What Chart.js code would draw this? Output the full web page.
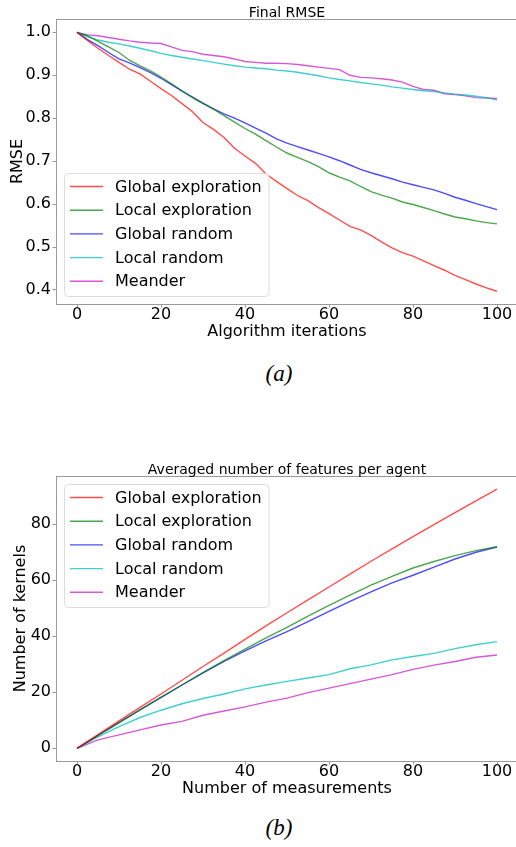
<!DOCTYPE html>
<html>
<head>
<meta charset="utf-8">
<script src="https://cdn.jsdelivr.net/npm/chart.js@4"></script>
<style>
  html, body { margin: 0; padding: 0; background: #fff; width: 516px; height: 847px; overflow: hidden; }
  canvas { position: absolute; left: 0; }
  #rmseChart { top: 0; }
  #kernelChart { top: 450px; }
  .caption { position: absolute; left: 229px; width: 100px; text-align: center;
             font: italic 23px/23px "Liberation Serif", serif; color: #000; }
</style>
</head>
<body>
<canvas id="rmseChart" width="520" height="345"></canvas>
<canvas id="kernelChart" width="520" height="350"></canvas>
<div class="caption" style="top:362px">(a)</div>
<div class="caption" style="top:816px">(b)</div>
<script>
// Series shared by both panels
const seriesLabels = ['Global exploration', 'Local exploration', 'Global random', 'Local random', 'Meander'];
const seriesColors = ['rgba(255,0,0,0.7)', 'rgba(0,128,0,0.7)', 'rgba(0,0,255,0.7)', 'rgba(0,191,191,0.75)', 'rgba(191,0,191,0.65)'];
const xTicks = [0, 20, 40, 60, 80, 100];

// (a) Final RMSE vs algorithm iterations
const iterations = [0, 2.5, 5, 7.5, 10, 12.5, 15, 17.5, 20, 22.5, 25, 27.5, 30, 32.5, 35, 37.5, 40, 42.5, 45, 47.5,
  50, 52.5, 55, 57.5, 60, 62.5, 65, 67.5, 70, 72.5, 75, 77.5, 80, 82.5, 85, 87.5, 90, 92.5, 95, 97.5, 100];
const rmseGlobalExploration = [1.0, 0.981, 0.963, 0.946, 0.930, 0.914, 0.903, 0.886, 0.869, 0.853, 0.834, 0.815, 0.790, 0.774,
  0.755, 0.730, 0.712, 0.695, 0.670, 0.653, 0.636, 0.620, 0.608, 0.592, 0.578, 0.563, 0.548, 0.540, 0.527, 0.512, 0.498,
  0.487, 0.479, 0.468, 0.457, 0.446, 0.434, 0.424, 0.414, 0.405, 0.397];
const rmseLocalExploration = [1.0, 0.992, 0.979, 0.966, 0.953, 0.935, 0.922, 0.910, 0.896, 0.880, 0.864, 0.848, 0.834, 0.821,
  0.806, 0.791, 0.776, 0.763, 0.748, 0.733, 0.719, 0.709, 0.699, 0.687, 0.673, 0.663, 0.654, 0.641, 0.629, 0.621, 0.614,
  0.605, 0.599, 0.592, 0.585, 0.577, 0.570, 0.566, 0.561, 0.557, 0.554];
const rmseGlobalRandom = [1.0, 0.983, 0.969, 0.953, 0.938, 0.929, 0.918, 0.906, 0.893, 0.878, 0.863, 0.849, 0.835, 0.822,
  0.810, 0.800, 0.789, 0.777, 0.765, 0.752, 0.742, 0.734, 0.726, 0.718, 0.710, 0.701, 0.691, 0.681, 0.673, 0.666, 0.659,
  0.651, 0.645, 0.639, 0.633, 0.625, 0.616, 0.609, 0.601, 0.594, 0.587];
const rmseLocalRandom = [1.0, 0.990, 0.982, 0.977, 0.973, 0.968, 0.963, 0.957, 0.951, 0.946, 0.942, 0.938, 0.934, 0.930,
  0.926, 0.922, 0.919, 0.917, 0.915, 0.912, 0.910, 0.907, 0.903, 0.899, 0.894, 0.890, 0.887, 0.883, 0.880, 0.877, 0.873,
  0.870, 0.867, 0.864, 0.862, 0.859, 0.856, 0.854, 0.851, 0.848, 0.842];
const rmseMeander = [1.0, 0.994, 0.992, 0.988, 0.984, 0.980, 0.977, 0.975, 0.974, 0.966, 0.958, 0.955, 0.949, 0.946,
  0.943, 0.938, 0.932, 0.930, 0.928, 0.928, 0.927, 0.925, 0.922, 0.919, 0.916, 0.913, 0.900, 0.895, 0.894, 0.892, 0.889,
  0.884, 0.874, 0.867, 0.865, 0.857, 0.855, 0.852, 0.848, 0.847, 0.846];
const rmseTicks = [0.4, 0.5, 0.6, 0.7, 0.8, 0.9, 1.0];

// (b) Averaged number of features per agent vs measurements
const measurements = [0, 5, 10, 15, 20, 25, 30, 35, 40, 45, 50, 55, 60, 65, 70, 75, 80, 85, 90, 95, 100];
const kernelsGlobalExploration = [0, 4.9, 9.8, 14.6, 19.4, 24.3, 29.2, 34.0, 38.9, 43.7, 48.4, 53.0, 57.6, 62.2, 66.8, 71.2, 75.6, 79.9, 84.2, 88.4, 92.6];
const kernelsLocalExploration = [0, 4.6, 9.2, 13.7, 18.2, 22.6, 27.0, 31.3, 35.4, 39.4, 43.2, 47.2, 51.0, 54.7, 58.3, 61.4, 64.4, 66.7, 68.8, 70.6, 72.0];
const kernelsGlobalRandom = [0, 4.6, 9.2, 13.7, 18.2, 22.6, 26.9, 31.0, 34.8, 38.4, 41.7, 45.2, 48.9, 52.5, 55.9, 59.1, 61.8, 64.7, 67.6, 70.0, 71.9];
const kernelsLocalRandom = [0, 4.1, 7.7, 11.0, 13.6, 15.9, 17.8, 19.4, 21.2, 22.6, 23.9, 25.1, 26.3, 28.4, 29.8, 31.6, 32.8, 33.9, 35.6, 37.0, 38.1];
const kernelsMeander = [0, 3.0, 4.8, 6.6, 8.3, 9.6, 11.8, 13.3, 14.8, 16.5, 17.9, 19.9, 21.5, 23.1, 24.7, 26.3, 28.2, 29.7, 31.0, 32.5, 33.3];
const kernelTicks = [0, 20, 40, 60, 80];

const spineColor = '#9a9a9a';
Chart.defaults.font.family = '"DejaVu Sans", sans-serif';
Chart.defaults.font.size = 16;
Chart.defaults.color = '#000';

// Title, top/right spines and the in-plot legend
const panelPlugin = {
  id: 'panel',
  afterDraw(chart, args, opts) {
    const ctx = chart.ctx;
    const a = chart.chartArea;
    ctx.save();
    ctx.strokeStyle = spineColor;
    ctx.lineWidth = 1;
    ctx.beginPath();
    ctx.moveTo(a.left, a.top + 0.5);
    ctx.lineTo(a.right, a.top + 0.5);
    ctx.moveTo(a.right - 0.5, a.top);
    ctx.lineTo(a.right - 0.5, a.bottom);
    ctx.stroke();

    ctx.font = '14px "DejaVu Sans"';
    ctx.fillStyle = '#000';
    ctx.textAlign = 'center';
    ctx.textBaseline = 'alphabetic';
    ctx.fillText(opts.title, (a.left + a.right) / 2, opts.titleBaseline);

    // legend box
    ctx.font = '16px "DejaVu Sans"';
    ctx.textAlign = 'left';
    const textW = Math.max(...seriesLabels.map(t => ctx.measureText(t).width));
    const w = 51 + textW + 7;
    const h = 123;
    const x = a.left + 8;
    const y = opts.legendAt === 'bottom' ? a.bottom - 8 - h : a.top + 8;
    ctx.beginPath();
    ctx.roundRect(x + 0.5, y + 0.5, w, h, 4);
    ctx.fillStyle = 'rgba(255,255,255,0.85)';
    ctx.fill();
    ctx.strokeStyle = '#dcdcdc';
    ctx.stroke();
    chart.data.datasets.forEach((ds, i) => {
      const cy = y + 13.5 + i * 23.7;
      ctx.strokeStyle = ds.borderColor;
      ctx.lineWidth = ds.borderWidth;
      ctx.beginPath();
      ctx.moveTo(x + 6, cy);
      ctx.lineTo(x + 39, cy);
      ctx.stroke();
      ctx.fillStyle = '#000';
      ctx.textBaseline = 'middle';
      ctx.fillText(ds.label, x + 51, cy + 1);
    });
    ctx.restore();
  }
};

function buildDatasets(xs, seriesList) {
  return seriesList.map((vals, i) => ({
    label: seriesLabels[i],
    data: vals.map((v, j) => ({ x: xs[j], y: v })),
    borderColor: seriesColors[i],
    borderWidth: 1.4,
    pointRadius: 0,
    tension: 0,
    fill: false
  }));
}

function makeChart(id, cfg) {
  return new Chart(document.getElementById(id), {
    type: 'line',
    data: { datasets: buildDatasets(cfg.xs, cfg.series) },
    plugins: [panelPlugin],
    options: {
      responsive: false,
      animation: false,
      layout: { padding: { top: cfg.top, right: 2, left: 0, bottom: 0 } },
      plugins: {
        legend: { display: false },
        tooltip: { enabled: false },
        panel: { title: cfg.title, titleBaseline: cfg.titleBaseline, legendAt: cfg.legendAt }
      },
      scales: {
        x: {
          type: 'linear',
          min: -5,
          max: 105,
          afterBuildTicks: s => { s.ticks = xTicks.map(v => ({ value: v })); },
          afterFit: s => { s.height = cfg.xHeight; },
          ticks: { padding: -1, font: { lineHeight: 1 }, callback: v => String(v) },
          grid: { drawOnChartArea: false, drawTicks: true, tickLength: 3.5, color: spineColor },
          border: { display: true, color: spineColor, width: 1 },
          title: { display: true, text: cfg.xLabel, padding: { top: 0, bottom: cfg.xTitlePad } }
        },
        y: {
          type: 'linear',
          min: cfg.yMin,
          max: cfg.yMax,
          afterBuildTicks: s => { s.ticks = cfg.yTicks.map(v => ({ value: v })); },
          afterFit: s => { s.width = 56; },
          ticks: { padding: 1.5, callback: cfg.yFormat },
          grid: { drawOnChartArea: false, drawTicks: true, tickLength: 3.5, color: spineColor },
          border: { display: true, color: spineColor, width: 1 },
          title: { display: true, text: cfg.yLabel, padding: { top: cfg.yTitlePad, bottom: 0 } }
        }
      }
    }
  });
}

makeChart('rmseChart', {
  xs: iterations,
  series: [rmseGlobalExploration, rmseLocalExploration, rmseGlobalRandom, rmseLocalRandom, rmseMeander],
  title: 'Final RMSE',
  titleBaseline: 16.7,
  legendAt: 'bottom',
  top: 19,
  xHeight: 41,
  xTitlePad: 3.7,
  xLabel: 'Algorithm iterations',
  yLabel: 'RMSE',
  yTitlePad: 8,
  yMin: 0.3674,
  yMax: 1.031,
  yTicks: rmseTicks,
  yFormat: v => v.toFixed(1)
});

makeChart('kernelChart', {
  xs: measurements,
  series: [kernelsGlobalExploration, kernelsLocalExploration, kernelsGlobalRandom, kernelsLocalRandom, kernelsMeander],
  title: 'Averaged number of features per agent',
  titleBaseline: 24,
  legendAt: 'top',
  top: 26,
  xHeight: 39,
  xTitlePad: 1.4,
  xLabel: 'Number of measurements',
  yLabel: 'Number of kernels',
  yTitlePad: 11.4,
  yMin: -4.54,
  yMax: 97.25,
  yTicks: kernelTicks,
  yFormat: v => String(v)
});
</script>
</body>
</html>
